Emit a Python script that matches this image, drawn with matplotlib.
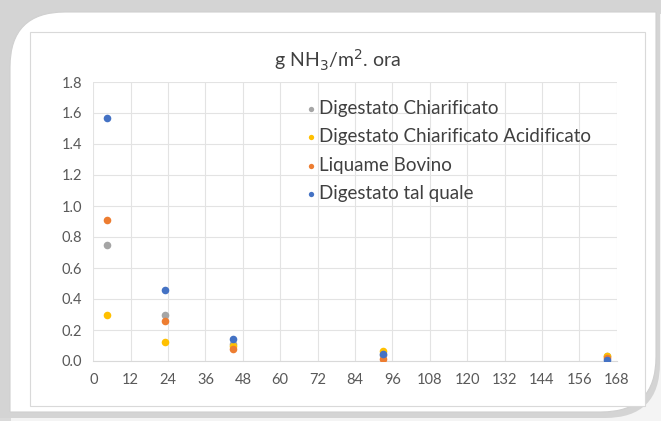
import matplotlib.pyplot as plt
from matplotlib.patches import FancyBboxPatch, Rectangle
import numpy as np

plt.rcParams['font.family'] = ['Lato', 'DejaVu Sans']

# ore di campionamento
ore = [4.5, 23, 45, 93, 165]

# g NH3/m2 ora per ogni materiale
digestato_chiarificato = [0.75, 0.30, 0.11, 0.04, 0.035]
digestato_acidificato = [0.30, 0.12, 0.10, 0.065, 0.03]
liquame_bovino = [0.91, 0.26, 0.075, 0.015, 0.02]
digestato_tal_quale = [1.565, 0.46, 0.14, 0.045, 0.005]

serie = [
    ('Digestato Chiarificato', digestato_chiarificato, '#A5A5A5'),
    ('Digestato Chiarificato Acidificato', digestato_acidificato, '#FFC000'),
    ('Liquame Bovino', liquame_bovino, '#ED7D31'),
    ('Digestato tal quale', digestato_tal_quale, '#4472C4'),
]
x_ticks = np.arange(0, 169, 12)
y_ticks = np.arange(0, 1.81, 0.2)

W, H = 661, 421
fig = plt.figure(figsize=(W / 100, H / 100), dpi=100)
fig.patch.set_facecolor('#f4f4f4')

def box(x0, y0, x1, y1, r, **kw):
    # coordinate in pixel dall'alto
    return FancyBboxPatch((x0 / W, 1 - y1 / H), (x1 - x0) / W, (y1 - y0) / H,
                          boxstyle=f'round,pad=0,rounding_size={r / W}',
                          transform=fig.transFigure, mutation_aspect=W / H, **kw)

# ombra grigia in alto e a sinistra
fig.patches.append(Rectangle((0, 1 - 14 / H), 1, 14 / H, transform=fig.transFigure,
                             facecolor='#d6d6d6', edgecolor='none', zorder=0))
fig.patches.append(Rectangle((0, 0), 11 / W, 1, transform=fig.transFigure,
                             facecolor='#dadada', edgecolor='none', zorder=0))
# ombra dell'angolo in basso a destra
fig.patches.append(box(-60, -60, 660, 418, 55, facecolor='#d4d4d4', edgecolor='none', zorder=0.5))

# scheda bianca: angolo arrotondato in alto a sinistra e in basso a destra
clip = box(-80, -80, 656, 412, 55, facecolor='none', edgecolor='none')
fig.patches.append(clip)
card = box(10, 12, 760, 520, 55, facecolor='white', edgecolor='#d0d0d0', lw=0.8, zorder=1)
fig.patches.append(card)
card.set_clip_path(clip)
edge = box(-80, -80, 656, 412, 55, facecolor='none', edgecolor='#cfcfcf', lw=0.8, zorder=1.2)
fig.patches.append(edge)
edge.set_clip_path(card)

# bordo area grafico
fig.patches.append(Rectangle((30 / W, 1 - 406 / H), 615 / W, 374 / H,
                             transform=fig.transFigure, facecolor='white',
                             edgecolor='#d9d9d9', lw=0.8, zorder=2))

ax = fig.add_axes([93.3 / W, 1 - 361 / H, 523.4 / W, 279 / H])
ax.set_zorder(3)
ax.set_facecolor('none')

for nome, valori, colore in serie:
    ax.scatter(ore, valori, s=30, color=colore, label=nome, zorder=3, linewidths=0)

ax.set_xlim(0, 168)
ax.set_ylim(0, 1.8)
ax.set_xticks(x_ticks)
ax.set_yticks(y_ticks)
ax.set_yticklabels([f'{v:.1f}' for v in y_ticks])
ax.grid(True, color='#e3e3e3', lw=0.8)
ax.set_axisbelow(True)
for s in ['top', 'right', 'left']:
    ax.spines[s].set_visible(False)
ax.spines['bottom'].set_color('#d9d9d9')
ax.tick_params(length=0, colors='#595959', labelsize=10.5)
ax.tick_params(axis='y', pad=8)
ax.tick_params(axis='x', pad=9)

fig.text(337.5 / W, 1 - 60 / H, 'g NH$_3$/m$^2$. ora', ha='center', va='center',
         fontsize=14, color='#404040')

leg = ax.legend(loc='upper left', bbox_to_anchor=((307 - 93.3) / 523.4, (361 - 100) / 279),
                frameon=False, fontsize=13.5, handlelength=0.4, handletextpad=0.25,
                labelspacing=0.6, markerscale=0.7, borderpad=0, borderaxespad=0)
for t in leg.get_texts():
    t.set_color('#404040')

fig.savefig('out.png', dpi=100)
